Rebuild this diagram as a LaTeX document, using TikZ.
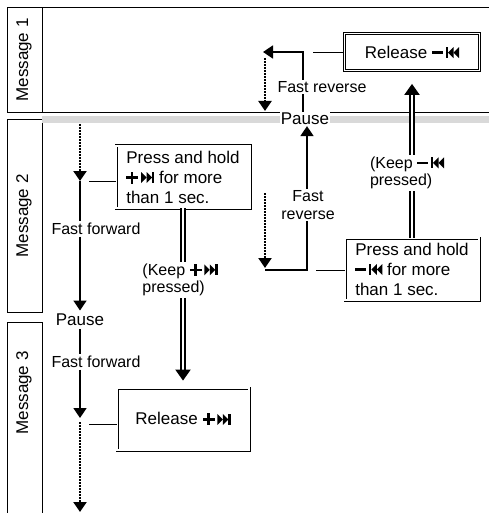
\documentclass[tikz,border=0pt]{standalone}
\usepackage{fontspec}
\setmainfont{Liberation Sans}
\usetikzlibrary{arrows.meta}

% track symbols
\newcommand{\nexttrk}{\tikz[baseline=0pt,x=1pt,y=1pt]{%
  \fill (0,0) -- (5.5,5.5) -- (0,11) -- cycle;
  \fill (5.5,0) -- (11,5.5) -- (5.5,11) -- cycle;
  \fill (11,0) rectangle (13.2,11);}}
\newcommand{\prevtrk}{\tikz[baseline=0pt,x=1pt,y=1pt]{%
  \fill (0,0) rectangle (2.2,11);
  \fill (7.7,0) -- (2.2,5.5) -- (7.7,11) -- cycle;
  \fill (13.2,0) -- (7.7,5.5) -- (13.2,11) -- cycle;}}
\newcommand{\plusb}{\tikz[baseline=0pt,x=1pt,y=1pt]{%
  \fill (0,4.3) rectangle (12,6.7);
  \fill (4.8,-0.5) rectangle (7.2,11.5);}\,}
\newcommand{\minusb}{\rule[4.3pt]{11pt}{2.4pt}\,}

\begin{document}
\begin{tikzpicture}[
				x=1pt, y=-1pt,
				every node/.style={font=\fontsize{17}{20}\selectfont},
				frame/.style={draw=black, line width=1pt},
				msgtext/.style={rotate=90},
				box/.style={
					draw=black,
					double=white,
					double distance=1.4pt,
					line width=0.8pt,
					align=left,
					inner sep=3pt,
					minimum width=134,
					minimum height=62
				},
				lbl/.style={font=\fontsize{16}{17.5}\selectfont, align=center, inner sep=1.5pt},
				flow/.style={line width=1.8pt},
				arrow/.style={flow, -{Triangle[length=10pt,width=13pt]}},
				dots/.style={line width=2.2pt, dash pattern=on 1.6pt off 1.4pt, -{Triangle[length=10pt,width=13pt]}},
				link/.style={line width=0.8pt},
				dbl/.style={double=white, double distance=1.3pt, line width=2pt},
				dblarrow/.style={dbl, -{Triangle[length=11pt,width=15pt]}}
				]
				\useasboundingbox (0,0) rectangle (489,513);
				\clip (0,0) rectangle (489,513);
				
				% message columns
				\draw[frame] (7,8) rectangle (42,113);
				\draw[frame] (7,120) rectangle (42,312);
				\draw[frame] (7,530) |- (42,322) -- (42,530);
				\node[msgtext] (msg1) at (24,60) {Message 1};
				\node[msgtext] (msg2) at (24,216) {Message 2};
				\node[msgtext] (msg3) at (24,393) {Message 3};
				\draw[frame] (42,8) -- (489,8);
				\draw[frame] (42,113) -- (489,113);
				\fill[gray!30] (42,116) rectangle (489,123);
				
				\node[fill=white, inner sep=1pt] (pause1) at (305,119) {Pause};
				\node (pause2) at (80,320) {Pause};
				
				% boxes
				\node[box] (rel1) at (412,52) [minimum height=37, minimum width=135, align=center]
				{Release \minusb\prevtrk};
				\node[box] (pl) at (183,177)
				{Press and hold\\ \plusb\nexttrk{} for more\\than 1 sec.};
				\node[box] (pr) at (412,269)
				{Press and hold\\ \minusb\prevtrk{} for more\\than 1 sec.};
				\node[box] (rel2) at (183,419) [minimum width=132, align=center]
				{Release \plusb\nexttrk};
				
				% labels
				\node[lbl] (fr1) at (322,87) {Fast reverse};
				\node[lbl] (fr2) at (308,205) {Fast\\reverse};
				\node[lbl] (ff1) at (96,229) {Fast forward};
				\node[lbl] (ff2) at (96,362) {Fast forward};
				\node[lbl, align=left] (kl) at (180,280) {(Keep \plusb\nexttrk\\pressed)};
				\node[lbl, align=left] (kr) at (407,173) {(Keep \minusb\prevtrk\\pressed)};
				
				% fast forward column
				\coordinate (top2) at (80,124);
				\coordinate (ffa) at (80,181);
				\coordinate (ffb) at (80,418);
				\coordinate (bot3) at (80,512);
				\draw[dots] (top2) -- (ffa);
				\draw[flow] (ffa) -- (ffa |- ff1.north);
				\draw[arrow] (ffa |- ff1.south) -- (pause2.north);
				\draw[flow] (pause2.south) -- (pause2.south |- ff2.north);
				\draw[arrow] (ffb |- ff2.south) -- (ffb);
				\draw[dots, shorten <=4] (ffb) -- (bot3);
				\draw[link] (pl.west |- ffa) -- ([xshift=9]ffa);
				\draw[link] ([yshift=-5]rel2.west) -- ([xshift=9,yshift=-6]ffb);
				
				% fast reverse, lower
				\coordinate (rvd) at (265,193);
				\coordinate (rva) at (265,268);
				\coordinate (rvc) at (307,270);
				\draw[dots] (rvd) -- (rva);
				\draw[flow] (rva |- rvc) -- (rvc) -- (rvc |- fr2.south);
				\draw[arrow] (rvc |- fr2.north) -- (rvc |- pause1.south);
				\draw[link] (pr.west |- rvc) -- ([xshift=9]rvc);
				
				% fast reverse, upper
				\coordinate (fwc) at (303,52);
				\coordinate (fwa) at (263,52);
				\coordinate (fwt) at (265,58);
				\coordinate (fwd) at (265,111);
				\draw[flow] (fwc |- pause1.north) -- (fwc |- fr1.south);
				\draw[arrow] (fwc |- fr1.north) -- (fwc) -- (fwa);
				\draw[dots] (fwt) -- (fwd);
				\draw[link] (rel1.west) -- ([xshift=10]fwc);
				
				% keep pressed
				\draw[dbl] (pl.south) -- (pl.south |- kl.north);
				\draw[dblarrow, shorten >=7] (pl.south |- kl.south) -- (rel2.north);
				\draw[dbl] (pr.north) -- (pr.north |- kr.south);
				\draw[dblarrow, shorten >=13] (pr.north |- kr.north) -- (rel1.south);
			\end{tikzpicture}
\end{document}
